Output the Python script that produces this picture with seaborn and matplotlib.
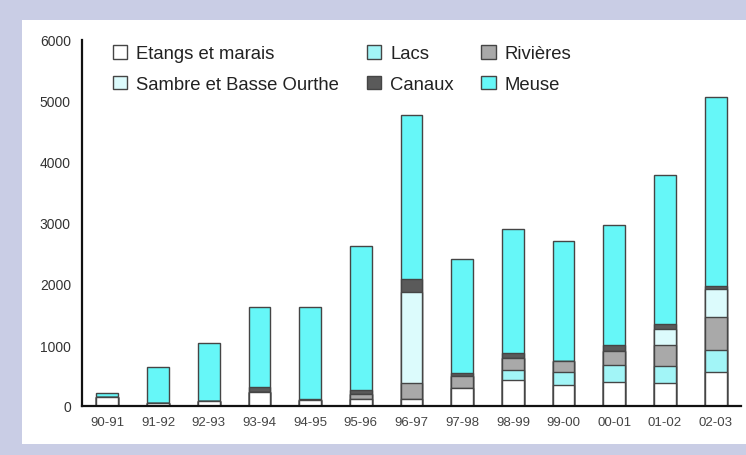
import numpy as np
import pandas as pd
import matplotlib
matplotlib.use('Agg')
import matplotlib.pyplot as plt
from matplotlib.patches import Rectangle, Patch
import seaborn as sns

# --------------- DATA -----------------
years = ['90-91', '91-92', '92-93', '93-94', '94-95', '95-96', '96-97',
         '97-98', '98-99', '99-00', '00-01', '01-02', '02-03']
etangs = [140, 50, 80, 230, 100, 120, 120, 300, 430, 350, 400, 370, 550]
lacs = [0, 0, 0, 0, 0, 0, 0, 0, 165, 200, 265, 290, 365]
rivieres = [0, 0, 0, 0, 0, 70, 255, 200, 185, 180, 240, 340, 545]
sambre = [0, 0, 0, 0, 0, 0, 1495, 0, 0, 0, 0, 270, 450]
canaux = [0, 0, 0, 75, 20, 70, 205, 40, 85, 0, 95, 70, 50]
meuse = [70, 584, 950, 1315, 1500, 2363, 2690, 1875, 2038, 1975, 1967, 2443, 3110]

# stacking order, bottom to top
layers = [
    ('Etangs et marais', etangs, '#ffffff'),
    ('Lacs', lacs, '#a2f5f7'),
    ('Rivières', rivieres, '#a9a9a9'),
    ('Sambre et Basse Ourthe', sambre, '#dcfbfc'),
    ('Canaux', canaux, '#5a5a5a'),
    ('Meuse', meuse, '#66f7f8'),
]

# --------------- STYLE -----------------
sns.set_style('white')
plt.rcParams['font.family'] = ['Liberation Sans', 'DejaVu Sans']

W, H = 746, 456
fig = plt.figure(figsize=(W / 100, H / 100), dpi=100, facecolor='#c9cde5')
fig.patches.append(Rectangle((22 / W, 1 - 445 / H), 1 - 22 / W, (445 - 21) / H,
                             transform=fig.transFigure, facecolor='white',
                             edgecolor='none', zorder=-1))

ax = fig.add_axes([82 / W, 1 - 407 / H, (741 - 82) / W, (407 - 41) / H])
ax.patch.set_visible(False)

# cumulative totals, drawn from the top layer down so lower ones cover
df = pd.DataFrame({name: vals for name, vals, _ in layers}, index=years)
cum = df.cumsum(axis=1)
for name, _, color in reversed(layers):
    sns.barplot(x=years, y=cum[name].values, color=color, width=0.43,
                edgecolor='#454545', linewidth=1.0, saturation=1,
                errorbar=None, ax=ax)

ax.set_xlim(-0.5, 12.5)
ax.set_ylim(0, 6000)
ax.set_yticks(np.arange(0, 6001, 1000))
ax.set_xticks(np.arange(len(years)))
ax.set_xticklabels(years)
ax.set_xticks(np.arange(0.5, len(years), 1), minor=True)

for s in ['top', 'right']:
    ax.spines[s].set_visible(False)
for s in ['left', 'bottom']:
    ax.spines[s].set_color('#111111')
    ax.spines[s].set_linewidth(1.6)

ax.tick_params(axis='y', direction='out', length=5, width=1.4, color='#111111',
               labelsize=10, labelcolor='#333333', pad=3)
ax.tick_params(axis='x', which='major', length=0, labelsize=9.5,
               labelcolor='#444444', pad=7)
ax.tick_params(axis='x', which='minor', direction='out', length=4, width=1.4,
               color='#111111')
ax.set_xlabel('')
ax.set_ylabel('')

# legend: column-first fill gives rows Etangs/Lacs/Rivieres, Sambre/Canaux/Meuse
order = [0, 3, 1, 4, 2, 5]
handles = [Patch(facecolor=layers[i][2], edgecolor='#454545', linewidth=1.0)
           for i in order]
labels = [layers[i][0] for i in order]
fig.legend(handles, labels, ncol=3, loc='upper left',
           bbox_to_anchor=(113 / W, 1 - 46 / H), frameon=False,
           fontsize=13.3, handlelength=0.76, handleheight=0.76,
           handletextpad=0.5, labelspacing=0.72, columnspacing=1.5,
           borderpad=0, borderaxespad=0, labelcolor='#222222')

fig.savefig('out.png', dpi=100, facecolor=fig.get_facecolor())
